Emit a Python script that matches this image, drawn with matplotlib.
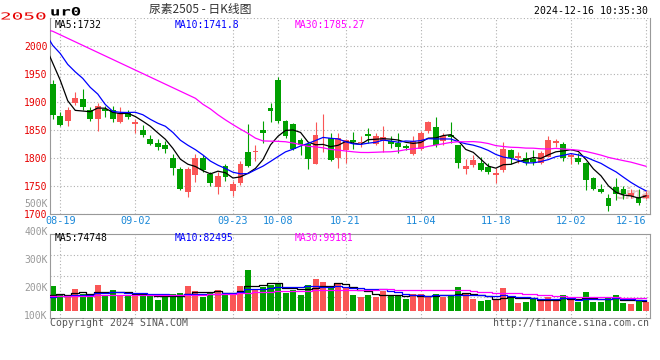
import matplotlib
matplotlib.use("Agg")
import matplotlib.pyplot as plt
import matplotlib.ticker as mticker
import matplotlib.transforms as mtransforms
from matplotlib.textpath import TextPath
from matplotlib.patches import PathPatch
from matplotlib.font_manager import FontProperties
import numpy as np
import pandas as pd

# 交易日: 2024-08-16 ~ 2024-12-16 (去掉中秋、国庆)
holidays = ["2024-09-16", "2024-09-17", "2024-10-01", "2024-10-02",
            "2024-10-03", "2024-10-04", "2024-10-07"]
days = pd.bdate_range("2024-08-16", "2024-12-16")
days = days[~days.isin(pd.to_datetime(holidays))]

tick_dates = ["08-19", "09-02", "09-23", "10-08", "10-21",
              "11-04", "11-18", "12-02", "12-16"]

open_ = [1933, 1876, 1866, 1898, 1906, 1886, 1871, 1888, 1886, 1865,
         1880, 1861, 1851, 1835, 1827, 1823, 1801, 1781, 1739, 1771,
         1800, 1772, 1748, 1786, 1741, 1755, 1812, 1811, 1851, 1889,
         1940, 1866, 1861, 1833, 1826, 1790, 1841, 1836, 1800, 1815,
         1832, 1827, 1843, 1825, 1830, 1830, 1828, 1822, 1807, 1816,
         1849, 1855, 1830, 1842, 1823, 1781, 1788, 1792, 1785, 1771,
         1779, 1815, 1800, 1800, 1798, 1791, 1803, 1827, 1826, 1803,
         1801, 1792, 1764, 1746, 1729, 1749, 1746, 1733, 1730, 1729]
high = [1940, 1883, 1891, 1918, 1924, 1891, 1899, 1893, 1893, 1892,
        1886, 1870, 1860, 1842, 1835, 1830, 1808, 1785, 1785, 1807,
        1805, 1776, 1776, 1790, 1760, 1796, 1861, 1823, 1867, 1899,
        1945, 1869, 1863, 1836, 1828, 1864, 1879, 1846, 1846, 1835,
        1847, 1839, 1854, 1846, 1858, 1840, 1845, 1826, 1840, 1849,
        1867, 1873, 1845, 1864, 1824, 1798, 1806, 1802, 1791, 1782,
        1829, 1816, 1812, 1811, 1814, 1813, 1839, 1834, 1829, 1809,
        1809, 1794, 1767, 1754, 1736, 1764, 1751, 1745, 1746, 1741]
low = [1870, 1857, 1858, 1896, 1886, 1866, 1849, 1874, 1864, 1863,
       1871, 1845, 1838, 1823, 1814, 1810, 1771, 1744, 1730, 1757,
       1776, 1751, 1736, 1760, 1732, 1752, 1785, 1796, 1828, 1864,
       1863, 1836, 1814, 1806, 1780, 1789, 1812, 1796, 1782, 1791,
       1816, 1821, 1828, 1823, 1812, 1818, 1809, 1815, 1805, 1814,
       1845, 1821, 1823, 1828, 1783, 1772, 1785, 1777, 1772, 1755,
       1775, 1790, 1792, 1788, 1788, 1789, 1802, 1821, 1796, 1790,
       1790, 1744, 1744, 1738, 1705, 1726, 1727, 1729, 1717, 1727]
close = [1877, 1860, 1886, 1908, 1891, 1871, 1893, 1884, 1871, 1880,
         1874, 1864, 1842, 1826, 1821, 1817, 1783, 1745, 1781, 1801,
         1779, 1755, 1769, 1767, 1754, 1789, 1787, 1813, 1846, 1885,
         1866, 1839, 1817, 1824, 1799, 1842, 1842, 1797, 1836, 1833,
         1829, 1829, 1839, 1840, 1838, 1825, 1821, 1819, 1830, 1846,
         1864, 1823, 1840, 1838, 1792, 1786, 1797, 1779, 1776, 1774,
         1817, 1800, 1804, 1792, 1794, 1809, 1832, 1831, 1800, 1805,
         1793, 1761, 1746, 1739, 1715, 1736, 1736, 1738, 1720, 1735]
volume = [187500, 120000, 107500, 162500, 125000, 115000, 195000, 120000, 157500, 120000,
          112500, 120000, 132500, 112500, 82500, 107500, 127500, 137500, 187500, 150000,
          107500, 132500, 157500, 132500, 137500, 187500, 307500, 162500, 182500, 195000,
          200000, 137500, 157500, 120000, 195000, 240000, 220000, 175000, 202500, 182500,
          120000, 107500, 120000, 107500, 150000, 112500, 112500, 90000, 127500, 127500,
          107500, 127500, 107500, 112500, 180000, 137500, 90000, 75000, 82500, 82500,
          172500, 95000, 60000, 70000, 95000, 75000, 107500, 75000, 120000, 82500,
          70000, 142500, 70000, 70000, 95000, 120000, 62500, 52500, 75000, 70000]

# 08-16 之前 30 个交易日 (图上不显示, 只用来算均线起点)
hist_close = [1970, 2049, 2075, 2097, 2080, 2060, 2082, 2073, 2060, 2069,
              2063, 2053, 2031, 2015, 2010, 2006, 1972, 1934, 1970, 1990,
              2100, 2005, 2081, 2041, 2008, 2031, 2013, 2070, 1994, 1897]
hist_volume = [118000, 125000, 104000, 131000, 112000, 98000, 140000, 121000, 109000, 115000,
               127000, 102000, 119000, 134000, 111000, 96000, 123000, 117000, 108000, 129000,
               92000, 86000, 101000, 95000, 88000, 105000, 99000, 112000, 97000, 103000]

price_ma_text = ["MA5:1732", "MA10:1741.8", "MA30:1785.27"]
vol_ma_text = ["MA5:74748", "MA10:82495", "MA30:99181"]

RED = "#fa5656"
GREEN = "#00a000"
MA_COLORS = ["black", "blue", "magenta"]
GRID = "#b0b0b0"
FRAME = "#999999"
PRICE_LABEL = "#e60000"
MONO = "DejaVu Sans Mono"

W, H = 660, 360
fig = plt.figure(figsize=(W / 100, H / 100), dpi=100)


def box(x0, y0, x1, y1):
    return [x0 / W, 1 - y1 / H, (x1 - x0) / W, (y1 - y0) / H]


def wide_text(s, x_px, base_px, size_px, sx, color, weight="normal"):
    # 新浪的位图字体有时横向拉宽, 用 TextPath 横向放大来模仿
    tp = TextPath((0, 0), s, size=size_px, prop=FontProperties(family=MONO, weight=weight))
    tr = mtransforms.Affine2D().scale(sx, 1).translate(x_px, H - base_px)
    fig.add_artist(PathPatch(tp, transform=tr, facecolor=color, lw=0))


ax = fig.add_axes(box(50.3, 18.3, 650, 214.3))
axv = fig.add_axes(box(50.3, 234, 650, 318))

n = len(close)
x = np.arange(n)
o, h, l, c = (np.array(v, dtype=float) for v in (open_, high, low, close))
colors = np.where(c >= o, RED, GREEN)
tick_pos = [int(np.where(days.strftime("%m-%d") == d)[0][0]) for d in tick_dates]

# K线
ax.vlines(x, l, h, colors=colors, lw=0.8, zorder=2)
ax.bar(x, np.maximum(np.abs(c - o), 1.2), bottom=np.minimum(o, c), width=0.78,
       color=colors, lw=0, zorder=3)

xs = np.arange(-len(hist_close), n)
all_close = pd.Series(hist_close + close, dtype=float)
for win, col in zip((5, 10, 30), MA_COLORS):
    ma = all_close.rolling(win).mean().values
    ax.plot(xs[-n - 1:], ma[-n - 1:], color=col, lw=0.9, zorder=4)

ax.set_xlim(-0.32, n - 0.47)
ax.set_ylim(1700, 2050)
ax.set_yticks(np.arange(1700, 2051, 50))
ax.set_xticks(tick_pos)
ax.set_xticklabels(tick_dates)
ax.grid(True, color=GRID, linestyle=(0, (1, 2)), lw=0.8, zorder=0)
ax.tick_params(length=0, pad=2)
ax.tick_params(axis="y", labelcolor=PRICE_LABEL, labelsize=7)
ax.tick_params(axis="x", labelcolor="#1a88d8", labelsize=7.3, pad=1.5)
for lab in ax.get_xticklabels() + ax.get_yticklabels():
    lab.set_family(MONO)
ax.get_xticklabels()[-1].set_ha("right")
ax.get_yticklabels()[-1].set_visible(False)
wide_text("2050", 0, 19.5, 9.7, 2.0, PRICE_LABEL)
ax.spines["top"].set_visible(False)
for s in ("left", "right", "bottom"):
    ax.spines[s].set_color(FRAME)

for txt, col, px in zip(price_ma_text, MA_COLORS, (55, 175, 295)):
    ax.text((px - 50.3) / 599.7, 0.966, txt, transform=ax.transAxes, color=col,
            family=MONO, fontsize=7, va="center", ha="left")
ax.text(0.975, 0.1, "sina", transform=ax.transAxes, color="#e6c8c8", fontsize=11,
        style="italic", weight="bold", ha="center", va="center", zorder=1)

# 成交量
axv.bar(x, volume, width=0.8, color=colors, lw=0, zorder=2)
all_vol = pd.Series(hist_volume + volume, dtype=float)
for win, col in zip((5, 10, 30), MA_COLORS):
    ma = all_vol.rolling(win).mean().values
    axv.plot(xs[-n - 1:], ma[-n - 1:], color=col, lw=0.9, drawstyle="steps-mid", zorder=3)

vlo, vhi = -52500, 577500
axv.set_xlim(ax.get_xlim())
axv.set_ylim(vlo, vhi)
axv.set_xticks(tick_pos)
axv.set_yticks(np.linspace(vlo, vhi, 5)[1:-1])
axv.tick_params(length=0, labelleft=False, labelbottom=False)
axv.grid(True, color=GRID, linestyle=(0, (1, 2)), lw=0.8, zorder=0)
for s in axv.spines.values():
    s.set_color(FRAME)

for txt, col, px in zip(vol_ma_text, MA_COLORS, (54.7, 174.7, 294.7)):
    axv.text((px - 50.3) / 599.7, 0.95, txt, transform=axv.transAxes, color=col,
             family=MONO, fontsize=7, va="center", ha="left")

# 成交量刻度 (新浪把它们排在左边一条独立的刻度上)
axl = fig.add_axes(box(50.3, 195, 650, 320))
axl.set_ylim(80700, 527100)
axl.set_yticks([100000, 200000, 300000, 400000, 500000])
axl.yaxis.set_major_formatter(mticker.FuncFormatter(lambda v, p: f"{v / 1000:.0f}K"))
axl.set_xticks([])
axl.patch.set_visible(False)
for s in axl.spines.values():
    s.set_visible(False)
axl.tick_params(length=0, pad=2, labelcolor="#999999", labelsize=7)
for lab in axl.get_yticklabels():
    lab.set_family(MONO)

# 标题和页脚
wide_text("ur0", 50, 15.5, 11.5, 1.5, "black", weight="bold")
fig.text(200 / W, 1 - 10 / H, "尿素2505 - 日K线图", family=["Noto Sans CJK SC", "DejaVu Sans"],
         fontsize=8.5, color="#333333", va="center", ha="center")
fig.text(648 / W, 1 - 11.5 / H, "2024-12-16 10:35:30", family=MONO, fontsize=7.1,
         va="center", ha="right")
fig.text(50 / W, 1 - 323 / H, "Copyright 2024 SINA.COM", family=MONO, fontsize=7.1,
         color="#555555", va="center", ha="left")
fig.text(649 / W, 1 - 323 / H, "http://finance.sina.com.cn", family=MONO, fontsize=7.1,
         color="#555555", va="center", ha="right")

fig.savefig("out.png", dpi=100, facecolor="white")
